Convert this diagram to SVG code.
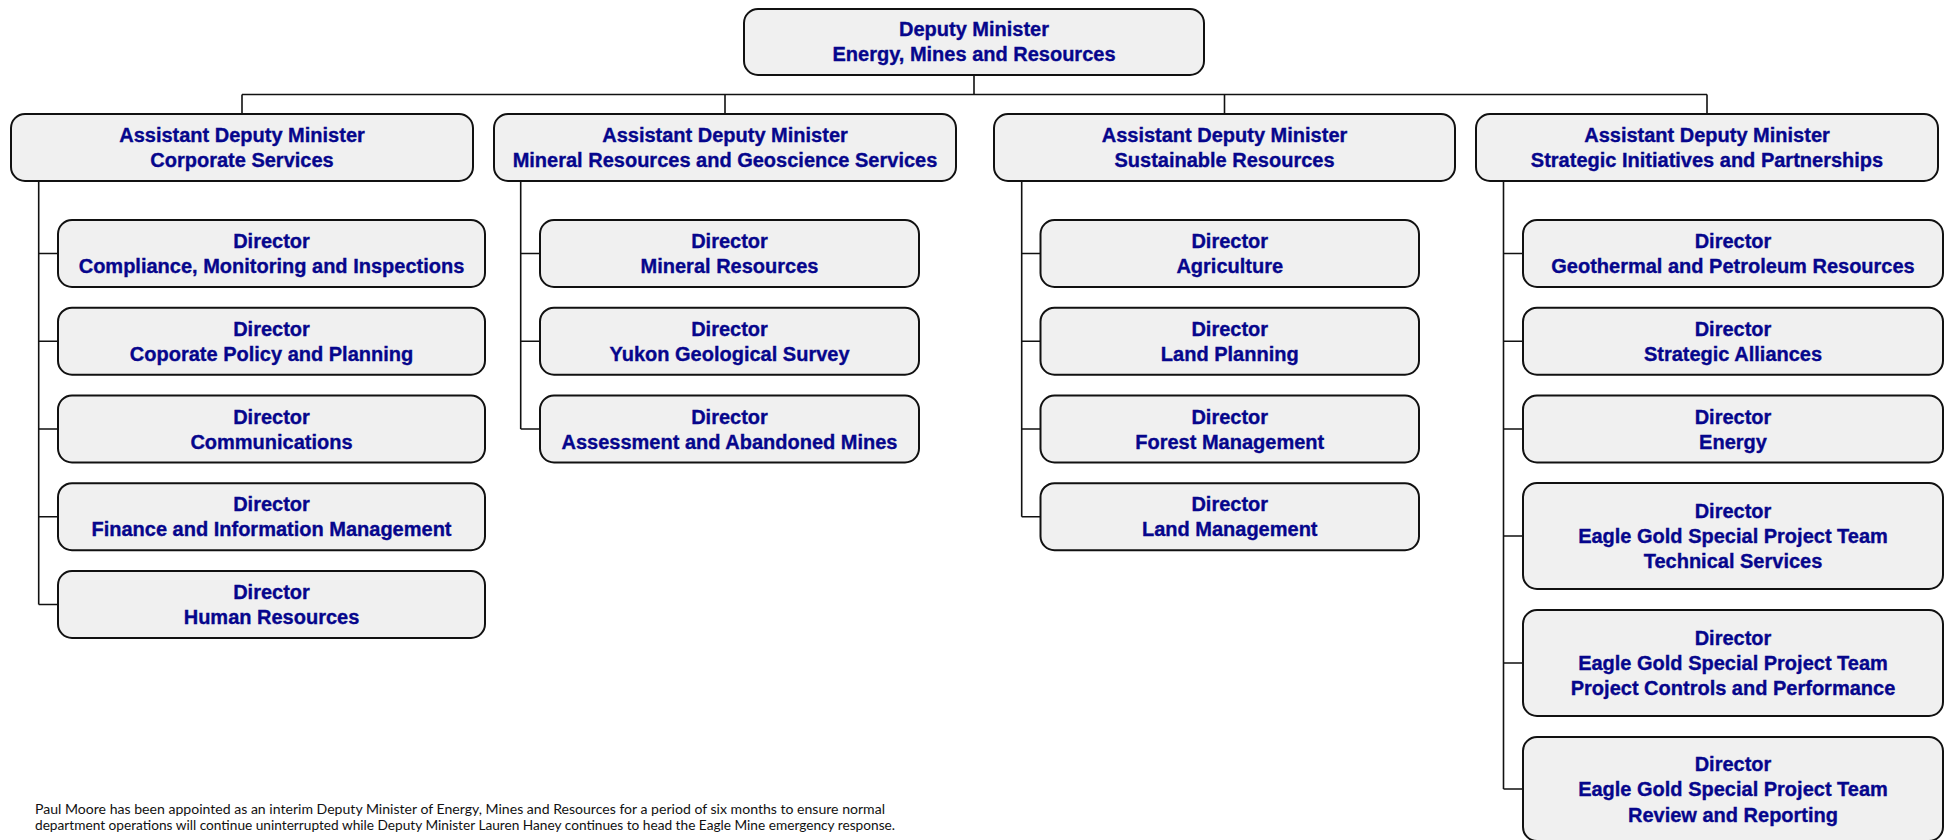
<svg xmlns="http://www.w3.org/2000/svg" width="1951" height="840" viewBox="0 0 1951 840">
<style>
.box{fill:#f0f0f0;stroke:#111;stroke-width:2}
.t{font-family:"Liberation Sans",Arial,sans-serif;font-weight:bold;font-size:20px;fill:#06068c;stroke:#06068c;stroke-width:0.35;text-anchor:middle}
.ln{stroke:#111;stroke-width:1.6;fill:none}
.note{font-family:Lato,"Liberation Sans",sans-serif;font-size:13.5px;fill:#111}
</style>
<rect width="1951" height="840" fill="#fff"/>
<g id="connectors">
<path class="ln" d="M974 75V94.5M242 94.5H1707M242 94.5V114M725 94.5V114M1224.5 94.5V114M1707 94.5V114"/>
<path class="ln" d="M38.7 181V604.5M38.7 253.5H58M38.7 341.2H58M38.7 429H58M38.7 516.7H58M38.7 604.5H58"/>
<path class="ln" d="M520.7 181V429M520.7 253.5H540M520.7 341.2H540M520.7 429H540"/>
<path class="ln" d="M1021.7 181V516.7M1021.7 253.5H1040.5M1021.7 341.2H1040.5M1021.7 429H1040.5M1021.7 516.7H1040.5"/>
<path class="ln" d="M1503.5 181V789M1503.5 253.5H1523M1503.5 341.2H1523M1503.5 429H1523M1503.5 536H1523M1503.5 663H1523M1503.5 789H1523"/>
</g>
<g id="dm"><rect class="box" x="744" y="9" width="460" height="66" rx="14"/><text class="t" x="974" y="36">Deputy Minister</text><text class="t" x="974" y="61">Energy, Mines and Resources</text></g>
<g id="adm1"><rect class="box" x="11" y="114" width="462" height="67" rx="14"/><text class="t" x="242" y="142">Assistant Deputy Minister</text><text class="t" x="242" y="167">Corporate Services</text></g>
<g id="adm2"><rect class="box" x="494" y="114" width="462" height="67" rx="14"/><text class="t" x="725" y="142">Assistant Deputy Minister</text><text class="t" x="725" y="167">Mineral Resources and Geoscience Services</text></g>
<g id="adm3"><rect class="box" x="994" y="114" width="461" height="67" rx="14"/><text class="t" x="1224.5" y="142">Assistant Deputy Minister</text><text class="t" x="1224.5" y="167">Sustainable Resources</text></g>
<g id="adm4"><rect class="box" x="1476" y="114" width="462" height="67" rx="14"/><text class="t" x="1707" y="142">Assistant Deputy Minister</text><text class="t" x="1707" y="167">Strategic Initiatives and Partnerships</text></g>

<g id="d1-1"><rect class="box" x="58" y="220" width="427" height="67" rx="14"/><text class="t" x="271.5" y="248">Director</text><text class="t" x="271.5" y="273">Compliance, Monitoring and Inspections</text></g>
<g id="d1-2"><rect class="box" x="58" y="307.7" width="427" height="67" rx="14"/><text class="t" x="271.5" y="335.7">Director</text><text class="t" x="271.5" y="360.7">Coporate Policy and Planning</text></g>
<g id="d1-3"><rect class="box" x="58" y="395.5" width="427" height="67" rx="14"/><text class="t" x="271.5" y="423.5">Director</text><text class="t" x="271.5" y="448.5">Communications</text></g>
<g id="d1-4"><rect class="box" x="58" y="483.2" width="427" height="67" rx="14"/><text class="t" x="271.5" y="511.2">Director</text><text class="t" x="271.5" y="536.2">Finance and Information Management</text></g>
<g id="d1-5"><rect class="box" x="58" y="571" width="427" height="67" rx="14"/><text class="t" x="271.5" y="599">Director</text><text class="t" x="271.5" y="624">Human Resources</text></g>

<g id="d2-1"><rect class="box" x="540" y="220" width="379" height="67" rx="14"/><text class="t" x="729.5" y="248">Director</text><text class="t" x="729.5" y="273">Mineral Resources</text></g>
<g id="d2-2"><rect class="box" x="540" y="307.7" width="379" height="67" rx="14"/><text class="t" x="729.5" y="335.7">Director</text><text class="t" x="729.5" y="360.7">Yukon Geological Survey</text></g>
<g id="d2-3"><rect class="box" x="540" y="395.5" width="379" height="67" rx="14"/><text class="t" x="729.5" y="423.5">Director</text><text class="t" x="729.5" y="448.5">Assessment and Abandoned Mines</text></g>

<g id="d3-1"><rect class="box" x="1040.5" y="220" width="378.5" height="67" rx="14"/><text class="t" x="1229.75" y="248">Director</text><text class="t" x="1229.75" y="273">Agriculture</text></g>
<g id="d3-2"><rect class="box" x="1040.5" y="307.7" width="378.5" height="67" rx="14"/><text class="t" x="1229.75" y="335.7">Director</text><text class="t" x="1229.75" y="360.7">Land Planning</text></g>
<g id="d3-3"><rect class="box" x="1040.5" y="395.5" width="378.5" height="67" rx="14"/><text class="t" x="1229.75" y="423.5">Director</text><text class="t" x="1229.75" y="448.5">Forest Management</text></g>
<g id="d3-4"><rect class="box" x="1040.5" y="483.2" width="378.5" height="67" rx="14"/><text class="t" x="1229.75" y="511.2">Director</text><text class="t" x="1229.75" y="536.2">Land Management</text></g>

<g id="d4-1"><rect class="box" x="1523" y="220" width="420" height="67" rx="14"/><text class="t" x="1733" y="248">Director</text><text class="t" x="1733" y="273">Geothermal and Petroleum Resources</text></g>
<g id="d4-2"><rect class="box" x="1523" y="307.7" width="420" height="67" rx="14"/><text class="t" x="1733" y="335.7">Director</text><text class="t" x="1733" y="360.7">Strategic Alliances</text></g>
<g id="d4-3"><rect class="box" x="1523" y="395.5" width="420" height="67" rx="14"/><text class="t" x="1733" y="423.5">Director</text><text class="t" x="1733" y="448.5">Energy</text></g>
<g id="d4-4"><rect class="box" x="1523" y="483" width="420" height="106" rx="14"/><text class="t" x="1733" y="518">Director</text><text class="t" x="1733" y="543">Eagle Gold Special Project Team</text><text class="t" x="1733" y="568">Technical Services</text></g>
<g id="d4-5"><rect class="box" x="1523" y="610" width="420" height="106" rx="14"/><text class="t" x="1733" y="645">Director</text><text class="t" x="1733" y="670">Eagle Gold Special Project Team</text><text class="t" x="1733" y="695">Project Controls and Performance</text></g>
<g id="d4-6"><rect class="box" x="1523" y="737" width="420" height="104" rx="14"/><text class="t" x="1733" y="771">Director</text><text class="t" x="1733" y="796">Eagle Gold Special Project Team</text><text class="t" x="1733" y="822">Review and Reporting</text></g>

<g id="note">
<text class="note" x="35" y="814" textLength="850" lengthAdjust="spacingAndGlyphs">Paul Moore has been appointed as an interim Deputy Minister of Energy, Mines and Resources for a period of six months to ensure normal</text>
<text class="note" x="35" y="830" textLength="860" lengthAdjust="spacingAndGlyphs">department operations will continue uninterrupted while Deputy Minister Lauren Haney continues to head the Eagle Mine emergency response.</text>
</g>
</svg>
